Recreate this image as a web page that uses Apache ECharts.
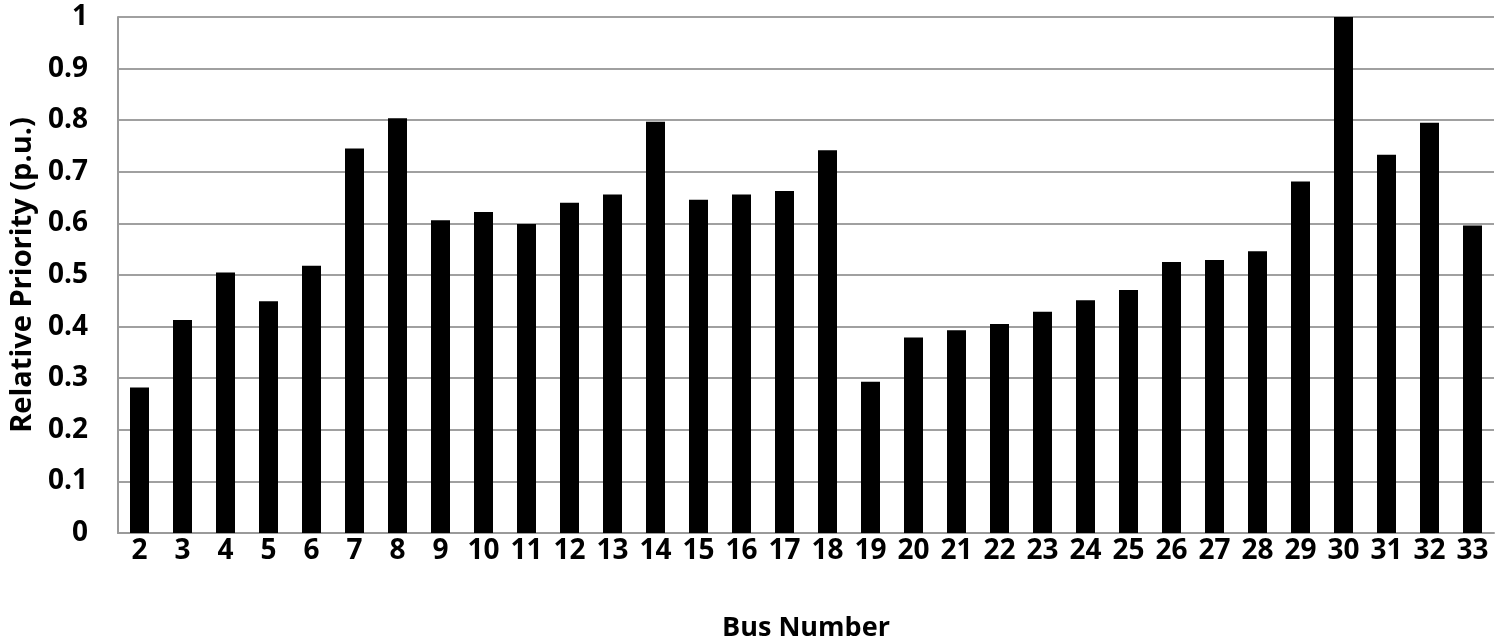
<!DOCTYPE html>
<html>
<head>
<meta charset="utf-8">
<script src="https://cdn.jsdelivr.net/npm/echarts@6/dist/echarts.min.js"></script>
<style>
html,body{margin:0;padding:0;background:#fff;}
#chart{width:1500px;height:642px;}
</style>
</head>
<body>
<div id="chart"></div>
<script>
const busNumbers = ['2','3','4','5','6','7','8','9','10','11','12','13','14','15','16','17','18','19','20','21','22','23','24','25','26','27','28','29','30','31','32','33'];
const relativePriority = [0.282,0.413,0.505,0.449,0.518,0.745,0.804,0.606,0.622,0.599,0.640,0.656,0.797,0.646,0.656,0.663,0.742,0.293,0.379,0.393,0.405,0.429,0.451,0.471,0.525,0.529,0.546,0.681,1.0,0.733,0.795,0.596];
const yAxisTitle = 'Relative Priority (p.u.)';
const xAxisTitle = 'Bus Number';

const chart = echarts.init(document.getElementById('chart'));
chart.setOption({
  animation: false,
  backgroundColor: '#ffffff',
  grid: {left: 118, right: 6, top: 17, bottom: 109, containLabel: false, outerBoundsMode: 'none'},
  xAxis: {
    type: 'category',
    data: busNumbers,
    name: xAxisTitle,
    nameLocation: 'middle',
    nameGap: 82,
    nameTextStyle: {fontFamily: 'Open Sans', fontWeight: 'bold', fontSize: 27, color: '#000'},
    axisLine: {show: true, lineStyle: {color: '#9a9a9a', width: 2}},
    axisTick: {show: false},
    axisLabel: {fontFamily: 'Open Sans', fontWeight: 'bold', fontSize: 28, color: '#000', margin: 4, interval: 0}
  },
  yAxis: {
    type: 'value',
    min: 0, max: 1, interval: 0.1,
    name: yAxisTitle,
    nameLocation: 'middle',
    nameGap: 80,
    nameRotate: 90,
    nameTextStyle: {fontFamily: 'Open Sans', fontWeight: 'bold', fontSize: 29, color: '#000'},
    axisLine: {show: true, lineStyle: {color: '#9a9a9a', width: 2}},
    axisTick: {show: false},
    splitLine: {show: true, lineStyle: {color: '#a0a0a0', width: 2}},
    axisLabel: {fontFamily: 'Open Sans', fontWeight: 'bold', fontSize: 28, color: '#000', margin: 30}
  },
  series: [{
    type: 'bar',
    data: relativePriority,
    barWidth: 19,
    itemStyle: {color: '#000000'}
  }]
});
</script>
</body>
</html>
